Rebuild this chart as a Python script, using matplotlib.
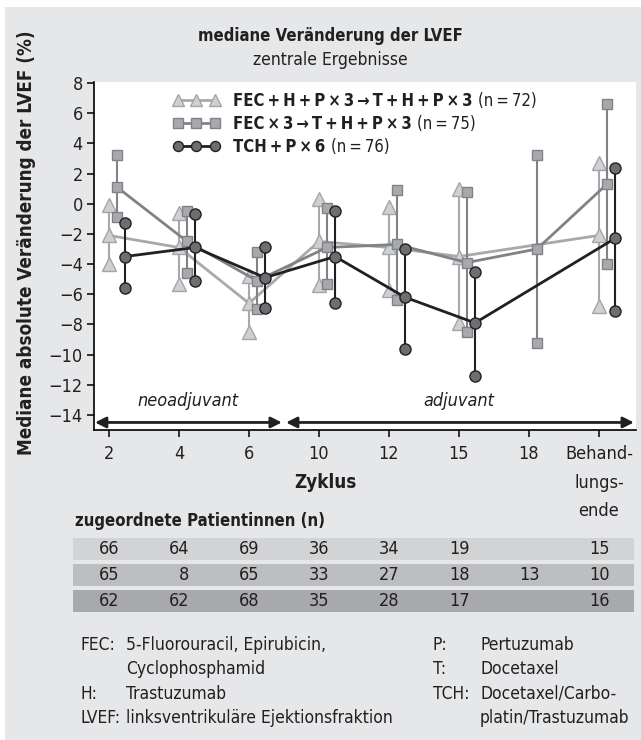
import numpy as np
import matplotlib
matplotlib.use("Agg")
import matplotlib.pyplot as plt
from matplotlib.lines import Line2D
from matplotlib.patches import Rectangle

plt.rcParams['font.family'] = ['DejaVu Sans']
plt.rcParams['font.stretch'] = 'condensed'

# categories on the x axis
cycles = ['2', '4', '6', '10', '12', '15', '18', 'Behand-\nlungs-\nende']

# FEC + H + P x3 -> T + H + P x3 (triangles)
tri_med = [-2.1, -2.9, -6.6, -2.5, -2.9, -3.5, np.nan, -2.1]
tri_hi = [-0.1, -0.6, -4.8, 0.3, -0.2, 1.0, np.nan, 2.7]
tri_lo = [-4.0, -5.3, -8.5, -5.4, -5.7, -7.9, np.nan, -6.8]

# FEC x3 -> T + H + P x3 (squares)
sq_med = [1.1, -2.5, -5.1, -2.9, -2.7, -3.9, -3.0, 1.3]
sq_hi = [3.2, -0.5, -3.2, -0.3, 0.9, 0.8, 3.2, 6.6]
sq_lo = [-0.9, -4.6, -7.0, -5.3, -6.4, -8.5, -9.2, -4.0]

# TCH + P x6 (circles)
circ_med = [-3.5, -2.9, -4.9, -3.5, -6.2, -7.9, np.nan, -2.3]
circ_hi = [-1.3, -0.7, -2.9, -0.5, -3.0, -4.5, np.nan, 2.4]
circ_lo = [-5.6, -5.1, -6.9, -6.6, -9.6, -11.4, np.nan, -7.1]

# patients per cycle
n_tri = [66, 64, 69, 36, 34, 19, None, 15]
n_sq = [65, 8, 65, 33, 27, 18, 13, 10]
n_circ = [62, 62, 68, 35, 28, 17, None, 16]

ts = '\u2009'
labels_bold = [f'FEC{ts}+{ts}H{ts}+{ts}P{ts}×{ts}3{ts}→{ts}T{ts}+{ts}H{ts}+{ts}P{ts}×{ts}3',
               f'FEC{ts}×{ts}3{ts}→{ts}T{ts}+{ts}H{ts}+{ts}P{ts}×{ts}3',
               f'TCH{ts}+{ts}P{ts}×{ts}6']
labels_n = [f'(n{ts}={ts}72)', f'(n{ts}={ts}75)', f'(n{ts}={ts}76)']

BG = '#e6e7e8'
INK = '#231f20'
W, H = 641, 740

fig = plt.figure(figsize=(W / 100, H / 100), dpi=100, facecolor='white')
fig.patches.append(Rectangle((5 / W, 0), 1, 1 - 7 / H, transform=fig.transFigure,
                             facecolor=BG, edgecolor='none', zorder=-5))

def fx(px):
    return px / W

def fy(py):
    return 1 - py / H

ax = fig.add_axes([fx(94), fy(430), fx(636 - 94), (430 - 82) / H])
ax.set_facecolor('white')

series = [
    dict(med=tri_med, hi=tri_hi, lo=tri_lo, off=0.0, marker='^', ms=9.5,
         face='#cfd0d2', edge='#a3a5a8', line='#a7a9ac'),
    dict(med=sq_med, hi=sq_hi, lo=sq_lo, off=0.115, marker='s', ms=7.5,
         face='#a7a9ac', edge='#808285', line='#808285'),
    dict(med=circ_med, hi=circ_hi, lo=circ_lo, off=0.23, marker='o', ms=8,
         face='#6d6e71', edge=INK, line=INK),
]

x = np.arange(len(cycles))
handles = []
for k, s in enumerate(series):
    med = np.array(s['med'])
    hi = np.array(s['hi'])
    lo = np.array(s['lo'])
    ok = ~np.isnan(med)
    xs = x[ok] + s['off']
    z = 3 + k
    ax.vlines(xs, lo[ok], hi[ok], color=s['line'], lw=1.5, zorder=z)
    ax.plot(xs, med[ok], color=s['line'], lw=2, zorder=z)
    for vals in (lo, hi, med):
        ax.plot(xs, vals[ok], ls='none', marker=s['marker'], ms=s['ms'],
                mfc=s['face'], mec=s['edge'], mew=1, zorder=z + 0.5)
    handles.append(Line2D([], [], color=s['line'], lw=2, marker=s['marker'],
                          ms=s['ms'] * 0.9, mfc=s['face'], mec=s['edge'], mew=1))

ax.set_xlim(-0.214, 7.53)
ax.set_ylim(-15.0, 8.07)
ax.set_yticks(np.arange(-14, 9, 2))
ax.set_xticks(x)
ax.set_xticklabels(cycles, linespacing=1.75)
ax.tick_params(axis='both', direction='out', length=5, width=1.1, color='black',
               labelsize=13, labelcolor=INK, pad=3)
ax.tick_params(axis='x', pad=6)
for side in ('top', 'right'):
    ax.spines[side].set_visible(False)
for side in ('left', 'bottom'):
    ax.spines[side].set_linewidth(1.2)
    ax.spines[side].set_color('black')

# phase arrows
arrow = dict(arrowstyle='<|-|>', color=INK, lw=2, shrinkA=0, shrinkB=0,
             mutation_scale=16)
ax.annotate('', xy=(2.47, -14.5), xytext=(-0.2, -14.5), arrowprops=arrow)
ax.annotate('', xy=(7.5, -14.5), xytext=(2.53, -14.5), arrowprops=arrow)
ax.text(1.13, -13.1, 'neoadjuvant', style='italic', fontsize=13, ha='center',
        va='center', color=INK)
ax.text(5.0, -13.1, 'adjuvant', style='italic', fontsize=13, ha='center',
        va='center', color=INK)

leg = ax.legend(handles, labels_bold, loc='upper left',
                bbox_to_anchor=((173 - 94) / 542, (430 - 92) / 348),
                frameon=False, numpoints=3, handlelength=2.8, handletextpad=0.8,
                borderpad=0, borderaxespad=0, labelspacing=0.3,
                prop=dict(weight='bold', size=12))
for t, n in zip(leg.get_texts(), labels_n):
    t.set_color(INK)
    ax.annotate(n, xy=(1, 0.5), xycoords=t, xytext=(4, 0), textcoords='offset points',
                ha='left', va='center', fontsize=12, color=INK, zorder=10)

# titles and labels
fig.text(fx(330), fy(36), 'mediane Veränderung der LVEF', ha='center', va='center',
         fontsize=12, weight='bold', color=INK)
fig.text(fx(330), fy(60), 'zentrale Ergebnisse', ha='center', va='center',
         fontsize=12.5, color=INK)
fig.text(fx(27), fy(243), 'Mediane absolute Veränderung der LVEF (%)', rotation=90,
         ha='center', va='center', fontsize=13.5, weight='bold', color=INK)
fig.text(fx(325), fy(482), 'Zyklus', ha='center', va='center', fontsize=13.5,
         weight='bold', color=INK)

# table of patient numbers
fig.text(fx(75), fy(521), 'zugeordnete Patientinnen (n)', ha='left', va='center',
         fontsize=12, weight='bold', color=INK)
tab = fig.add_axes([fx(73), fy(614), fx(634 - 73), 78 / H])
tab.set_xlim(-0.514, 7.5)
tab.set_ylim(2.5, -0.5)
tab.axis('off')
row_colors = ['#d1d3d4', '#bcbec0', '#a7a9ac']
for r, (counts, c) in enumerate(zip([n_tri, n_sq, n_circ], row_colors)):
    tab.barh(r, 8.014, left=-0.514, height=0.846, color=c, edgecolor='none')
    for i, v in enumerate(counts):
        if v is not None:
            tab.text(i + 0.15, r, str(v), ha='right', va='center', fontsize=13,
                     color=INK)

# abbreviations
abbr_left = [('FEC:', '5-Fluorouracil, Epirubicin,', 645), ('', 'Cyclophosphamid', 669),
             ('H:', 'Trastuzumab', 694), ('LVEF:', 'linksventrikuläre Ejektionsfraktion', 718)]
abbr_right = [('P:', 'Pertuzumab', 645), ('T:', 'Docetaxel', 669),
              ('TCH:', 'Docetaxel/Carbo-', 694), ('', 'platin/Trastuzumab', 718)]
for items, x0, x1 in [(abbr_left, 80, 126), (abbr_right, 433, 480)]:
    for key, txt, py in items:
        fig.text(fx(x0), fy(py), key, ha='left', va='center', fontsize=12.5, color=INK)
        fig.text(fx(x1), fy(py), txt, ha='left', va='center', fontsize=12.5, color=INK)

fig.savefig('out.png', dpi=100, facecolor='white')
